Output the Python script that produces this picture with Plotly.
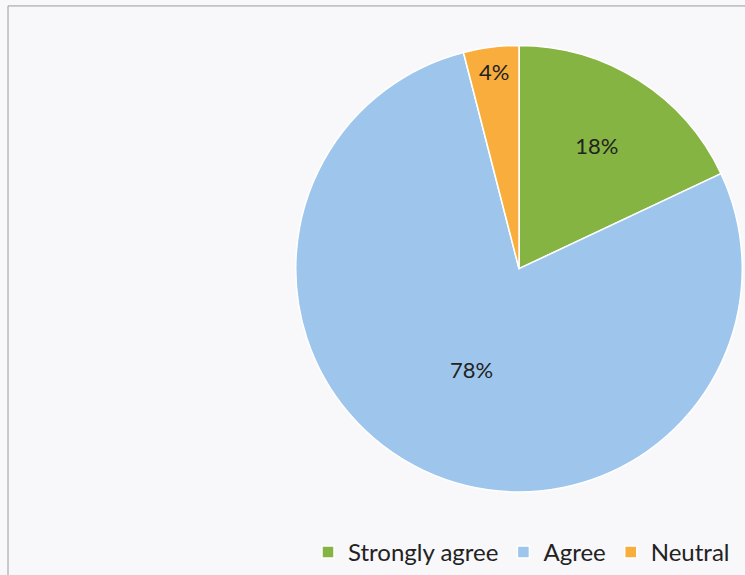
import plotly.graph_objects as go

# Survey response shares
categories = ["Strongly agree", "Agree", "Neutral"]
shares = [18, 78, 4]
colors = ["#86b443", "#9ec6ec", "#f8ad3c"]

W, H = 745, 575

fig = go.Figure(
    go.Pie(
        labels=categories,
        values=shares,
        sort=False,
        direction="clockwise",
        rotation=0,
        marker=dict(colors=colors, line=dict(color="#ffffff", width=1.5)),
        texttemplate="%{percent:.0%}",
        textposition="inside",
        insidetextorientation="horizontal",
        textfont=dict(family="Lato, sans-serif", size=22, color="#222222"),
        domain=dict(x=[293 / W, 1.0], y=[(H - 498) / H, (H - 46) / H]),
        hoverinfo="label+percent",
    )
)

# Chart frame (right and bottom edges run past the visible area)
fig.add_shape(
    type="rect", xref="paper", yref="paper",
    x0=8 / W, x1=1.05, y0=-0.05, y1=(H - 6) / H,
    line=dict(color="#9a9aa6", width=1),
)

fig.update_layout(
    width=W,
    height=H,
    margin=dict(l=0, r=0, t=0, b=0),
    paper_bgcolor="#f8f7fa",
    plot_bgcolor="#f8f7fa",
    font=dict(family="Lato, sans-serif", color="#222222"),
    showlegend=True,
    legend=dict(
        orientation="h",
        x=0.70, xanchor="center",
        y=-0.012, yanchor="bottom",
        font=dict(size=24),
        itemwidth=30,
        bgcolor="rgba(0,0,0,0)",
    ),
)

fig.write_html("out.html")
